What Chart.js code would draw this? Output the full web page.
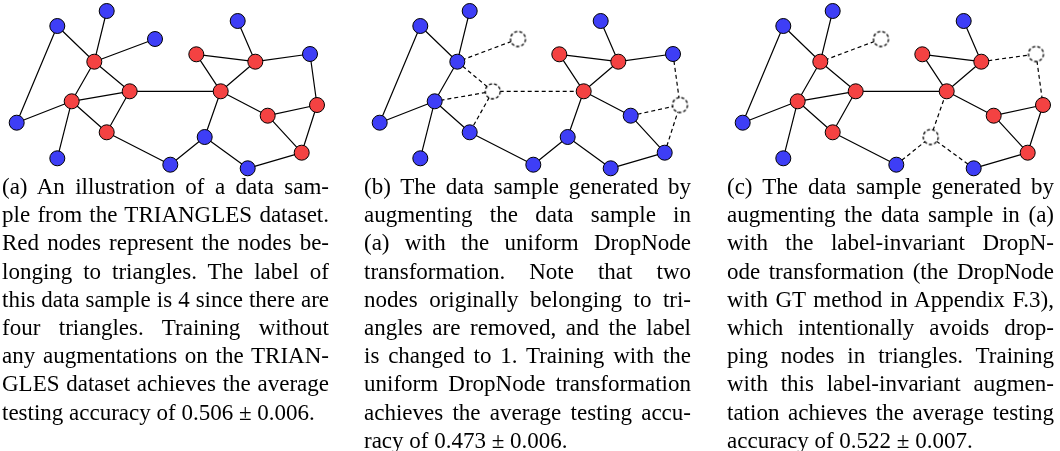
<!DOCTYPE html>
<html>
<head>
<meta charset="utf-8">
<script src="https://cdn.jsdelivr.net/npm/chart.js@4.4.0/dist/chart.umd.min.js"></script>
<style>
  html, body { margin: 0; padding: 0; background: #fff; }
  body { width: 1060px; height: 451px; position: relative; overflow: hidden; }
  #graphs { position: absolute; left: 0; top: 0; }
  .cap { position: absolute; top: 173px; width: 327px; font-family: "Liberation Serif", "DejaVu Serif", serif;
         font-size: 23px; line-height: 28.2px; color: #000; }
  .cap div { text-align: justify; text-align-last: justify; white-space: nowrap; }
  .cap div.last { text-align-last: left; }
</style>
</head>
<body>
<canvas id="graphs" width="1060" height="180"></canvas>
<div class="cap" id="capA" style="left:2px"></div>
<div class="cap" id="capB" style="left:364px"></div>
<div class="cap" id="capC" style="left:727px"></div>
<script>
// node positions of the sample graph (panel a frame)
var nodeX = [57.3, 106.7, 155, 94.3, 129.7, 71.7, 16.7, 106.7, 57.3, 170.3, 204.7, 247.7, 301.7, 267.7, 317, 220.7, 196.3, 255.3, 237.7, 310];
var nodeY = [26, 11, 39, 61.7, 91.3, 101.3, 122.7, 132.3, 158.3, 164.7, 137, 168.3, 152.7, 115.7, 105, 91.3, 54.3, 61.7, 21, 54];
// edges, 1-based node ids
var edges = [[1,4],[1,7],[2,4],[3,4],[4,5],[4,6],[5,6],[5,8],[6,8],[6,7],[6,9],[5,16],[8,10],[10,11],[11,16],[11,12],
             [12,13],[13,14],[13,15],[14,15],[14,16],[16,17],[16,18],[17,18],[18,19],[18,20],[20,15]];
// per panel: red nodes and dropped nodes
var redA = [4,5,6,8,13,14,15,16,17,18];
var redB = [16,17,18];
var redC = [4,5,6,8,13,14,15,16,17,18];
var dropA = [];
var dropB = [3,5,15];
var dropC = [3,11,20];

var captionA = [
  "(a) An illustration of a data sam-",
  "ple from the TRIANGLES dataset.",
  "Red nodes represent the nodes be-",
  "longing to triangles.  The label of",
  "this data sample is 4 since there are",
  "four triangles.  Training without",
  "any augmentations on the TRIAN-",
  "GLES dataset achieves the average",
  "testing accuracy of 0.506 \u00b1 0.006."
];
var captionB = [
  "(b) The data sample generated by",
  "augmenting the data sample in",
  "(a) with the uniform DropNode",
  "transformation.  Note that two",
  "nodes originally belonging to tri-",
  "angles are removed, and the label",
  "is changed to 1.  Training with the",
  "uniform DropNode transformation",
  "achieves the average testing accu-",
  "racy of 0.473 \u00b1 0.006."
];
var captionC = [
  "(c) The data sample generated by",
  "augmenting the data sample in (a)",
  "with the label-invariant DropN-",
  "ode transformation (the DropNode",
  "with GT method in Appendix F.3),",
  "which intentionally avoids drop-",
  "ping nodes in triangles.  Training",
  "with this label-invariant augmen-",
  "tation achieves the average testing",
  "accuracy of 0.522 \u00b1 0.007."
];

var RED = '#f44242';
var BLUE = '#3e3ef6';
var R = 7.5;
var panelShift = [0, 363, 726];

function fillCaption(id, lines) {
  var el = document.getElementById(id);
  for (var i = 0; i < lines.length; i++) {
    var d = document.createElement('div');
    d.textContent = lines[i];
    if (i == lines.length - 1) d.className = 'last';
    el.appendChild(d);
  }
}
fillCaption('capA', captionA);
fillCaption('capB', captionB);
fillCaption('capC', captionC);

// dashed empty circle for dropped nodes
var dashed = document.createElement('canvas');
dashed.width = 2 * R + 4;
dashed.height = 2 * R + 4;
var dc = dashed.getContext('2d');
dc.beginPath();
dc.arc(R + 2, R + 2, R, 0, Math.PI * 2);
dc.fillStyle = '#fff';
dc.fill();
dc.setLineDash([3.2, 2]);
dc.lineWidth = 1.3;
dc.strokeStyle = '#000';
dc.stroke();

var datasets = [];
var reds = [redA, redB, redC];
var drops = [dropA, dropB, dropC];
for (var p = 0; p < 3; p++) {
  var sx = panelShift[p];
  var pts = [], bg = [], styles = [], bw = [];
  for (var i = 0; i < nodeX.length; i++) {
    var id = i + 1;
    pts.push({ x: nodeX[i] + sx, y: nodeY[i] });
    if (drops[p].indexOf(id) >= 0) {
      styles.push(dashed); bg.push('#fff'); bw.push(0);
    } else {
      styles.push('circle'); bg.push(reds[p].indexOf(id) >= 0 ? RED : BLUE); bw.push(1);
    }
  }
  var solid = [], dash = [];
  for (var k = 0; k < edges.length; k++) {
    var a = edges[k][0] - 1, b = edges[k][1] - 1;
    var seg = [{ x: nodeX[a] + sx, y: nodeY[a] }, { x: nodeX[b] + sx, y: nodeY[b] }, { x: null, y: null }];
    if (drops[p].indexOf(a + 1) >= 0 || drops[p].indexOf(b + 1) >= 0) dash = dash.concat(seg);
    else solid = solid.concat(seg);
  }
  datasets.push({
    data: pts, order: 0, pointRadius: R, pointHoverRadius: R, pointStyle: styles,
    backgroundColor: bg, borderColor: '#000', borderWidth: bw, showLine: false, clip: false
  });
  datasets.push({
    data: solid, order: 1, showLine: true, spanGaps: false, pointRadius: 0,
    borderColor: '#000', borderWidth: 1.2, clip: false
  });
  datasets.push({
    data: dash, order: 1, showLine: true, spanGaps: false, pointRadius: 0,
    borderColor: '#000', borderWidth: 1.2, borderDash: [4, 3], clip: false
  });
}

var ctx = document.getElementById('graphs').getContext('2d');
var myChart = new Chart(ctx, {
  type: 'scatter',
  data: { datasets: datasets },
  options: {
    responsive: false,
    animation: false,
    devicePixelRatio: 1,
    layout: { padding: 0, autoPadding: false },
    events: [],
    plugins: { legend: { display: false }, tooltip: { enabled: false } },
    scales: {
      x: { type: 'linear', min: 0, max: 1060, display: false },
      y: { type: 'linear', min: 0, max: 180, reverse: true, display: false }
    }
  }
});
</script>
</body>
</html>
